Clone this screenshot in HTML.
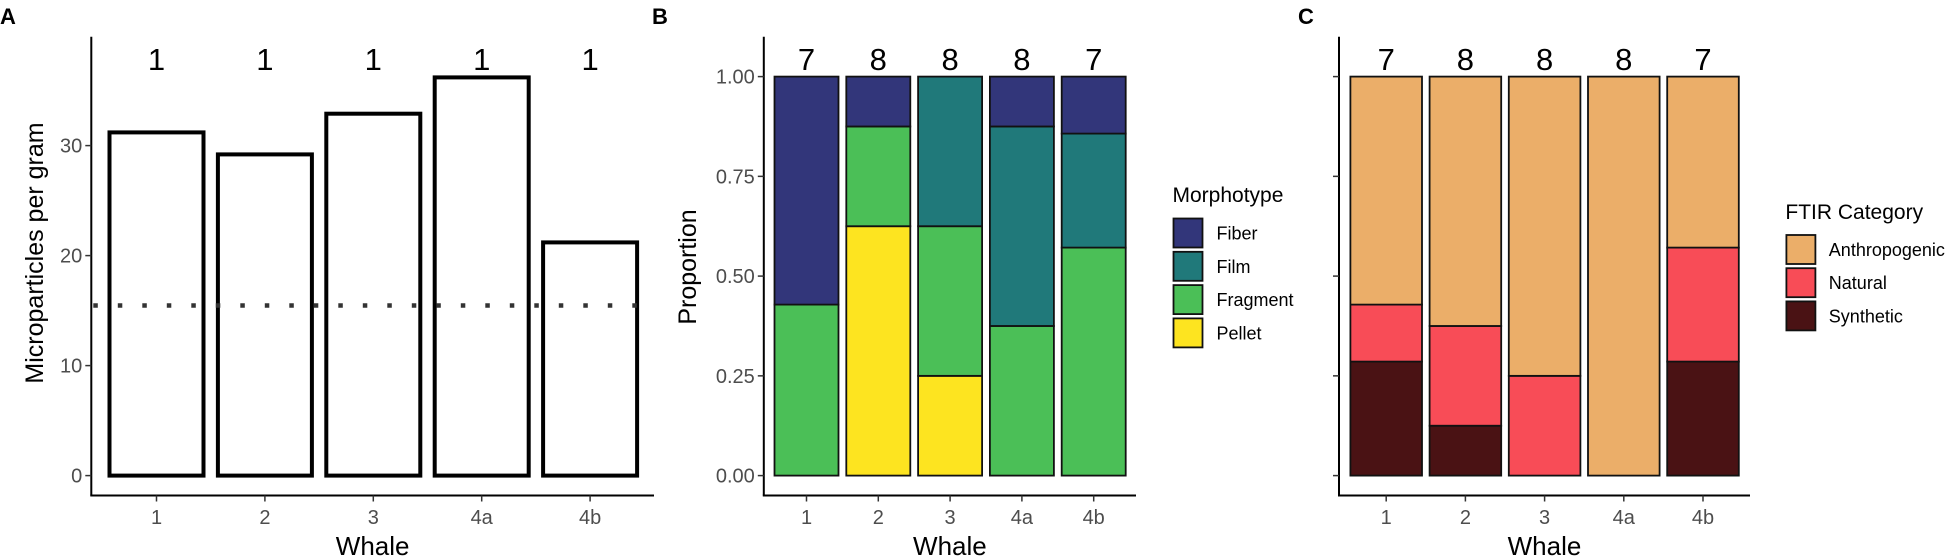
<!DOCTYPE html>
<html><head><meta charset="utf-8"><style>
html,body{margin:0;padding:0;background:#fff;}
svg{display:block;font-family:"Liberation Sans",Arial,sans-serif;}
</style></head><body>
<svg id="fig" width="1957" height="559" viewBox="0 0 1957 559" xmlns="http://www.w3.org/2000/svg"></svg>
<script>
const whales = ["1","2","3","4a","4b"];
const densityValues = [31.2, 29.2, 32.9, 36.2, 21.2];
const densityCounts = [1, 1, 1, 1, 1];
const densityRef = 15.46;
const densityTicks = [0, 10, 20, 30];
const morphCats = ["Fiber","Film","Fragment","Pellet"];
const morphColors = ["#32367a","#20797a","#4bbf57","#fde420"];
const fiber    = [4, 1, 0, 1, 1];
const film     = [0, 0, 3, 4, 2];
const fragment = [3, 2, 3, 3, 4];
const pellet   = [0, 5, 2, 0, 0];
const ftirCats = ["Anthropogenic","Natural","Synthetic"];
const ftirColors = ["#ebae69","#f84c57","#4a1214"];
const anthro    = [4, 5, 6, 8, 3];
const natural   = [1, 2, 2, 0, 2];
const synthetic = [2, 1, 0, 0, 2];
const propTicks = [0, 0.25, 0.5, 0.75, 1];
const propTickLabels = ["0.00","0.25","0.50","0.75","1.00"];

const NS = "http://www.w3.org/2000/svg";
const svg = document.getElementById("fig");
function el(tag, attrs, parent, text){
  const e = document.createElementNS(NS, tag);
  for (const k in attrs) e.setAttribute(k, attrs[k]);
  if (text !== undefined) e.textContent = text;
  (parent || svg).appendChild(e);
  return e;
}
function group(name){
  const g = el("g", {});
  
  
  return g;
}
const AXIS_TOP = 36.7, AXIS_BOT = 495.5;

function axes(g, x0, x1, centers, yTicks, yFn, yLabels){
  const ya = el("line", {x1:x0, y1:AXIS_TOP, x2:x0, y2:AXIS_BOT, stroke:"#000", "stroke-width":2}, g);
  
  
  const xa = el("line", {x1:x0-1, y1:AXIS_BOT, x2:x1, y2:AXIS_BOT, stroke:"#000", "stroke-width":2}, g);
  
  
  yTicks.forEach((v,i)=>{
    const y = yFn(v);
    const t = el("line", {x1:x0-6, y1:y, x2:x0, y2:y, stroke:"#333", "stroke-width":1.5}, g);
    
    
    if (yLabels){
      const tl = el("text", {x:x0-9, y:y+7, "text-anchor":"end", "font-size":20, fill:"#4d4d4d"}, g, yLabels[i]);
      
      
    }
  });
  centers.forEach((cx,i)=>{
    const t = el("line", {x1:cx, y1:AXIS_BOT, x2:cx, y2:AXIS_BOT+6, stroke:"#333", "stroke-width":1.5}, g);
    
    
    const tl = el("text", {x:cx, y:524, "text-anchor":"middle", "font-size":20, fill:"#4d4d4d"}, g, whales[i]);
    
    
  });
  const xt = el("text", {x:(x0+x1)/2, y:555, "text-anchor":"middle", "font-size":26, fill:"#000"}, g, "Whale");
  
  
}
function panelLetter(x, s){
  const t = el("text", {x:x, y:24, "font-size":22, "font-weight":"bold", fill:"#000"}, svg, s);
  
  
}

/* ---------- Panel A ---------- */
(function(){
  const g = group("panel-a");
  const x0 = 91.3, x1 = 654, c0 = 156.5, step = 108.4, bw = 98;
  const yA = v => 475.6 - v * 11.0;
  const centers = whales.map((w,i)=>c0 + i*step);
  axes(g, x0, x1, centers, densityTicks, yA, densityTicks.map(String));
  densityValues.forEach((v,i)=>{
    const b = el("rect", {x:centers[i]-bw/2+2, y:yA(v), width:bw-4, height:yA(0)-yA(v), fill:"#fff", stroke:"#000", "stroke-width":4}, g);
    
    
    const c = el("text", {x:centers[i], y:70, "text-anchor":"middle", "font-size":31, fill:"#000"}, g, String(densityCounts[i]));
    
    
  });
  const d = el("line", {x1:x0+2, y1:yA(densityRef), x2:x1-10, y2:yA(densityRef), stroke:"#333", "stroke-width":4.5, "stroke-dasharray":"4.5 20"}, g);
  
  
  const yt = el("text", {x:0, y:0, "text-anchor":"middle", "font-size":25, fill:"#000", transform:"translate(43,253) rotate(-90)"}, g, "Microparticles per gram");
  
  
  panelLetter(0, "A");
})();

function stacked(g, centers, bw, series, colors, names, yP, prefix){
  const totals = whales.map((w,i)=>series.reduce((s,a)=>s+a[i],0));
  centers.forEach((cx,i)=>{
    let cum = 0;
    series.forEach((arr,k)=>{
      const v = arr[i];
      if (v <= 0) return;
      const p0 = cum/totals[i], p1 = (cum+v)/totals[i];
      cum += v;
      const r = el("rect", {x:cx-bw/2, y:yP(p1), width:bw, height:yP(p0)-yP(p1), fill:colors[k], stroke:"#111", "stroke-width":1.8}, g);
      
      
    });
    const c = el("text", {x:cx, y:70, "text-anchor":"middle", "font-size":31, fill:"#000"}, g, String(totals[i]));
    
    
  });
}
function legend(g, x, titleY, keyY, keyStep, title, names, colors, labelX){
  const t = el("text", {x:x, y:titleY, "font-size":21, fill:"#000"}, g, title);
  
  
  names.forEach((n,k)=>{
    const y = keyY + k*keyStep;
    const r = el("rect", {x:x+1, y:y+1, width:29, height:29, fill:colors[k], stroke:"#111", "stroke-width":1.8}, g);
    
    
    const l = el("text", {x:labelX, y:y+22, "font-size":18, fill:"#000"}, g, n);
    
    
  });
}
const yP = p => 475.6 - p * 399;

/* ---------- Panel B ---------- */
(function(){
  const g = group("panel-b");
  const x0 = 763.8, x1 = 1136, c0 = 806.5, step = 71.8, bw = 64;
  const centers = whales.map((w,i)=>c0 + i*step);
  axes(g, x0, x1, centers, propTicks, yP, propTickLabels);
  stacked(g, centers, bw, [pellet, fragment, film, fiber], [morphColors[3],morphColors[2],morphColors[1],morphColors[0]], ["Pellet","Fragment","Film","Fiber"], yP, "morph");
  const yt = el("text", {x:0, y:0, "text-anchor":"middle", "font-size":25, fill:"#000", transform:"translate(696,267) rotate(-90)"}, g, "Proportion");
  
  
  legend(g, 1172.5, 202, 217.5, 33.3, "Morphotype", morphCats, morphColors, 1216.5);
  panelLetter(652, "B");
})();

/* ---------- Panel C ---------- */
(function(){
  const g = group("panel-c");
  const x0 = 1339, x1 = 1750, c0 = 1386.2, step = 79.2, bw = 71.6;
  const centers = whales.map((w,i)=>c0 + i*step);
  axes(g, x0, x1, centers, propTicks, yP, null);
  stacked(g, centers, bw, [synthetic, natural, anthro], [ftirColors[2],ftirColors[1],ftirColors[0]], ["Synthetic","Natural","Anthropogenic"], yP, "ftir");
  legend(g, 1785.4, 219, 234, 33.2, "FTIR Category", ftirCats, ftirColors, 1828.8);
  panelLetter(1298, "C");
})();
</script>
</body></html>
